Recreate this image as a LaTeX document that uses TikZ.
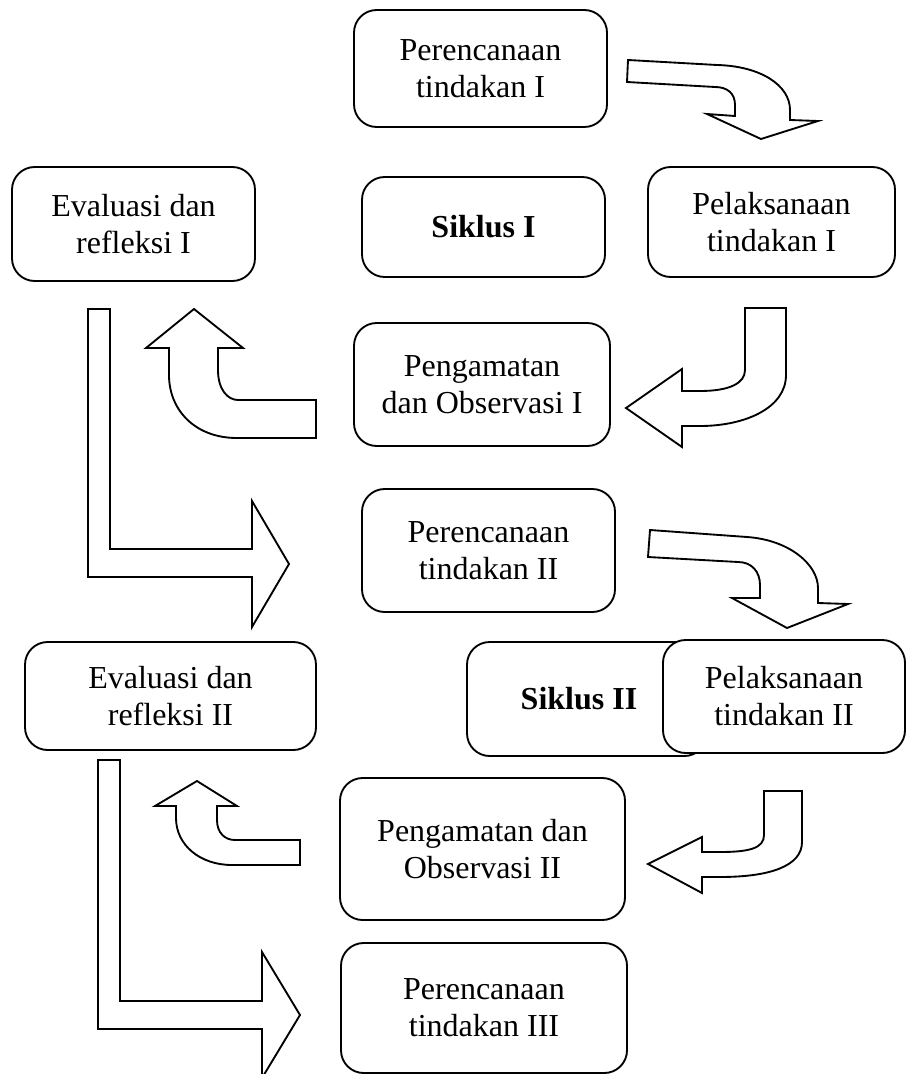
\documentclass[tikz,border=0pt]{standalone}
\usepackage{fontspec}
\setmainfont{Liberation Serif}
\begin{document}
\begin{tikzpicture}[x=0.75pt,y=-0.75pt,
  box/.style={draw, line width=1.4pt, rounded corners=17pt, fill=white, align=center,
    inner sep=0pt, font=\fontsize{24}{27.75}\selectfont},
  blockarrow/.style={draw, line width=1.4pt, line join=miter, fill=white}]
\useasboundingbox (0,0) rectangle (908,1074);

% boxes
\node[box, minimum width=189.75pt, minimum height=87.75pt] (p1) at (480.5,68.5) {Perencanaan\\tindakan I};
\node[box, minimum width=182.25pt, minimum height=85.5pt] (e1) at (133.5,224) {Evaluasi dan\\refleksi I};
\node[box, minimum width=182.25pt, minimum height=75pt] (s1) at (483.5,227) {\textbf{Siklus I}};
\node[box, minimum width=185.25pt, minimum height=82.5pt] (l1) at (771.5,222) {Pelaksanaan\\tindakan I};
\node[box, minimum width=192pt, minimum height=92.25pt] (o1) at (482,384.5) {Pengamatan\\dan Observasi I};
\node[box, minimum width=189.75pt, minimum height=92.25pt] (p2) at (488.5,550.5) {Perencanaan\\tindakan II};
\node[box, minimum width=218.25pt, minimum height=81pt] (e2) at (170.5,696) {Evaluasi dan\\refleksi II};
\node[box, minimum width=180pt, minimum height=85.5pt] (s2) at (587,699) {\textbf{Siklus II}\hspace*{12pt}};
\node[box, minimum width=181.5pt, minimum height=84.75pt] (l2) at (784,696.5) {Pelaksanaan\\tindakan II};
\node[box, minimum width=213.75pt, minimum height=106.5pt] (o2) at (482.5,849) {Pengamatan dan\\Observasi II};
\node[box, minimum width=214.5pt, minimum height=97.5pt] (p3) at (484,1008) {Perencanaan\\tindakan III};

% block arrows
% A1: p1 -> l1
\draw[blockarrow] (628,60) -- (717,65) .. controls (760,66) and (790,85) .. (790,110)
  -- (790,120) -- (818,121) -- (761,139) -- (707,114) -- (735,116) -- (735,105)
  .. controls (735,93) and (727,87) .. (715,87) -- (627,82) -- cycle;
% A2: l1 -> o1
\draw[blockarrow] (745,308) -- (786,308) -- (786,375) .. controls (786,408) and (745,426) .. (700,426)
  -- (682,426) -- (682,447) -- (626,408) -- (682,369) -- (682,391) -- (700,391)
  .. controls (730,391) and (745,383) .. (745,370) -- cycle;
% A3: o1 -> e1
\draw[blockarrow] (194,309) -- (243,348) -- (218,348) -- (218,370) .. controls (218,390) and (228,400) .. (238,400)
  -- (316,400) -- (316,438) -- (237,438) .. controls (195,438) and (169,410) .. (169,375)
  -- (169,348) -- (146,348) -- cycle;
% A4: e1 -> p2
\draw[blockarrow] (88,309) -- (110,309) -- (110,549) -- (252,549) -- (252,501) -- (289,564)
  -- (252,627) -- (252,577) -- (88,577) -- cycle;
% A5: p2 -> l2
\draw[blockarrow] (650,530) -- (747,537) .. controls (790,540) and (818,565) .. (818,588)
  -- (818,603) -- (848,604) -- (787,628) -- (732,598) -- (760,598) -- (760,585)
  .. controls (760,572) and (752,562) .. (738,562) -- (648,557) -- cycle;
% A6: l2 -> o2
\draw[blockarrow] (764,791) -- (802,791) -- (802,842) .. controls (802,866) and (770,877) .. (720,877)
  -- (702,877) -- (702,893) -- (648,864) -- (702,837) -- (702,852) -- (720,852)
  .. controls (750,852) and (764,848) .. (764,835) -- cycle;
% A7: o2 -> e2
\draw[blockarrow] (197,781) -- (237,806) -- (217,806) -- (217,820) .. controls (217,833) and (225,840) .. (235,840)
  -- (300,840) -- (300,865) -- (232,865) .. controls (200,865) and (176,845) .. (176,818)
  -- (176,806) -- (155,806) -- cycle;
% A8: e2 -> p3
\draw[blockarrow] (98,760) -- (120,760) -- (120,1001) -- (262,1001) -- (262,952) -- (300,1015)
  -- (262,1078) -- (262,1029) -- (98,1029) -- cycle;
\end{tikzpicture}
\end{document}
